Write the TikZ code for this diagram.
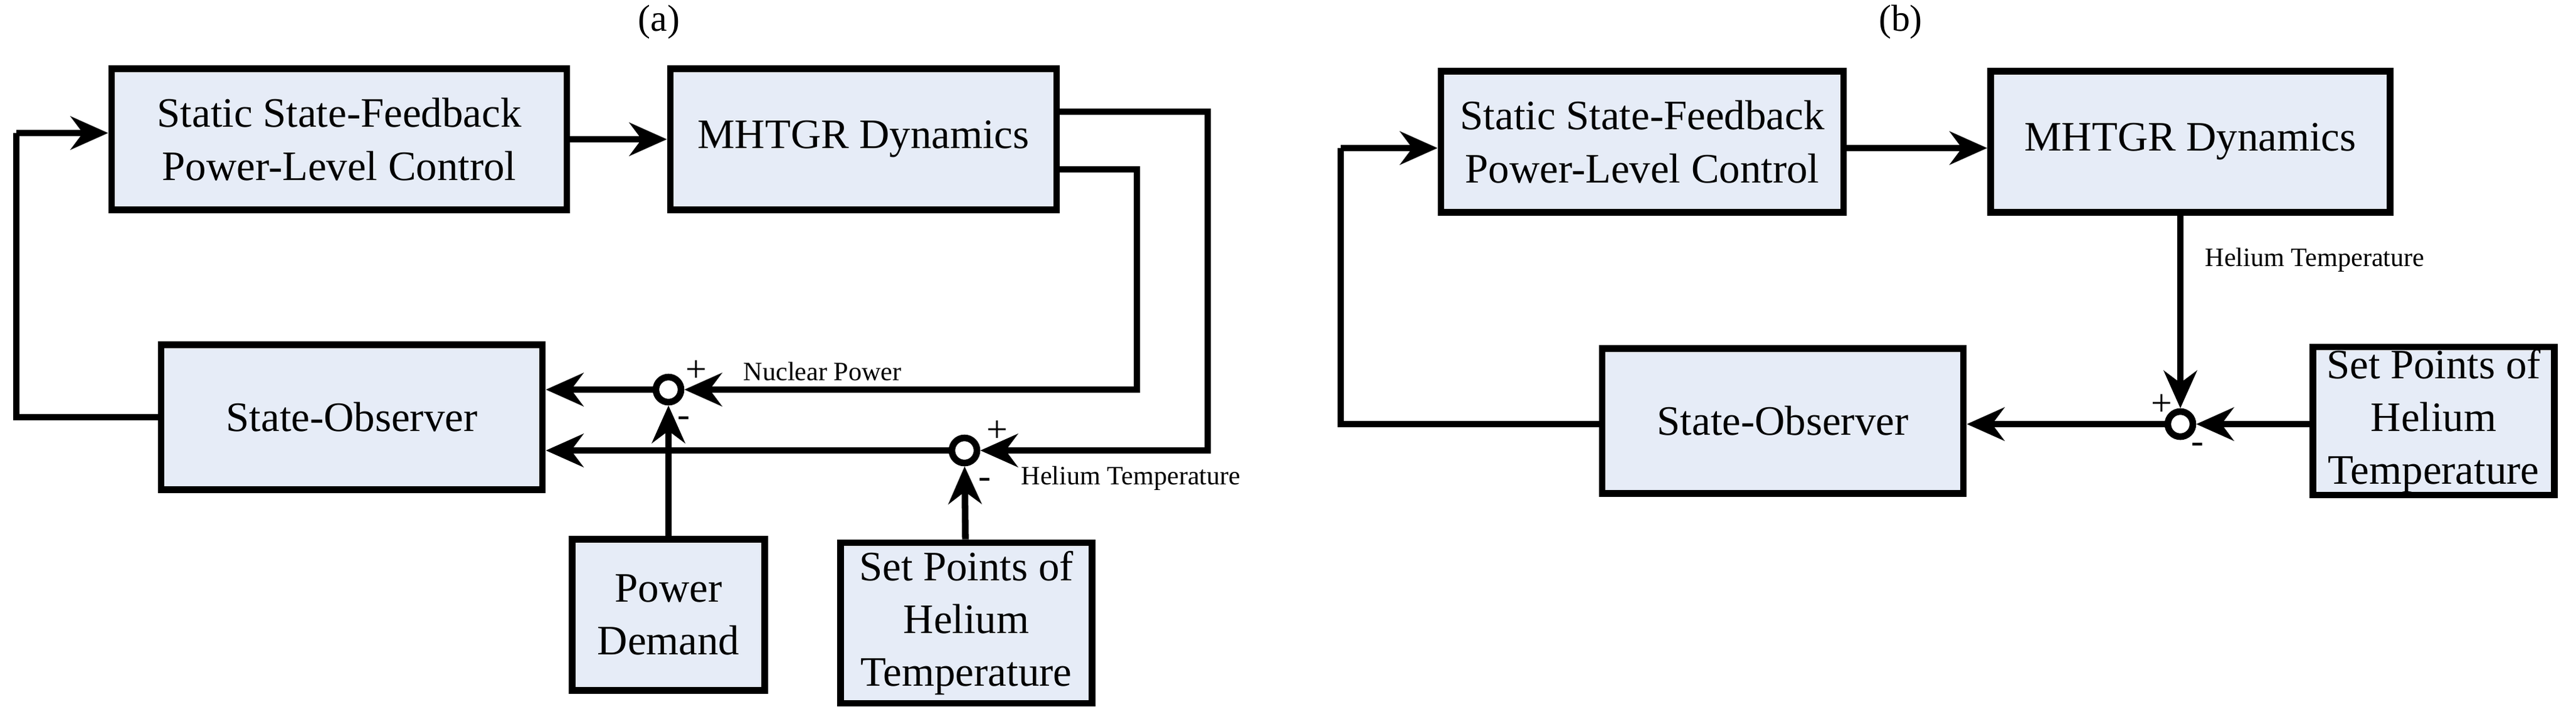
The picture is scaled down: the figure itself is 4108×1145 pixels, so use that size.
\documentclass[tikz,border=0pt]{standalone}
\usepackage{fontspec}
\setmainfont{Liberation Serif}
\newfontfamily\tms{Liberation Serif}
\usetikzlibrary{arrows.meta}
\definecolor{boxfill}{HTML}{E6ECF7}
\begin{document}
\begin{tikzpicture}[x=0.01cm,y=-0.01cm,
  box/.style={draw,line width=3pt,fill=boxfill,align=center,font=\tms\fontsize{19}{24}\selectfont,inner sep=0pt},
  sum/.style={draw,circle,line width=3pt,minimum size=0.4cm,inner sep=0pt,fill=white},
  ln/.style={line width=3pt},
  ar/.style={ln,-{Stealth[length=17pt,width=15pt]}},
  lab/.style={font=\tms\fontsize{12}{14}\selectfont,inner sep=0pt},
  sg/.style={font=\tms\fontsize{17}{17}\selectfont,inner sep=0pt}]
\useasboundingbox (0,0) rectangle (4108,1145);
% panel a
\node at (1051,35) [font=\tms\fontsize{17}{20}\selectfont] (ta) {(a)};
\node[box,minimum width=7.26cm,minimum height=2.25cm] (sa) at (541,222) {Static State-Feedback\\Power-Level Control};
\node[box,minimum width=6.16cm,minimum height=2.25cm] (ma) at (1377,222) {MHTGR Dynamics};
\node[box,minimum width=6.08cm,minimum height=2.31cm] (oa) at (561,665) {State-Observer};
\node[box,minimum width=3.07cm,minimum height=2.41cm] (pd) at (1066,980) {Power\\Demand};
\node[box,minimum width=4.01cm,minimum height=2.56cm] (spa) at (1541,993) {Set Points of\\Helium\\Temperature};
\node[sum] (c1) at (1066,621) {};
\node[sum] (c2) at (1538,718) {};
\coordinate (a1) at (1926,178);
\coordinate (a2) at (1926,718);
\coordinate (b1) at (1813,270);
\coordinate (b2) at (1813,621);
\coordinate (l1) at (26,665);
\coordinate (l2) at (26,212);
\draw[ar] (sa.east|-0,222) -- (ma.west|-0,222);
\draw[ar] (ma.east|-a1) -- (a1) -- (a2) -- (c2);
\draw[ar] (ma.east|-b1) -- (b1) -- (b2) -- (c1);
\draw[ar] (c1) -- (oa.east|-c1);
\draw[ar] (c2) -- (oa.east|-c2);
\draw[ar] (pd) -- (c1);
\draw[ar] (spa) -- (c2);
\draw[ln] (oa.west) -- (l1) -- (l2);
\draw[ar] (l2) -- (sa.west|-l2);
\node[sg] (p1) at (1110,592) {+};
\node[sg] (m1) at (1090,672) {-};
\node[sg] (p2) at (1590,688) {+};
\node[sg] (m2) at (1570,770) {-};
\node[lab,anchor=west] (np) at (1185,592) {Nuclear Power};
\node[lab,anchor=west] (ht) at (1628,762) {Helium Temperature};
% panel b
\node at (3031,35) [font=\tms\fontsize{17}{20}\selectfont] (tb) {(b)};
\node[box,minimum width=6.42cm,minimum height=2.25cm] (sb) at (2619,226) {Static State-Feedback\\Power-Level Control};
\node[box,minimum width=6.37cm,minimum height=2.25cm] (mb) at (3493,226) {MHTGR Dynamics};
\node[box,minimum width=5.76cm,minimum height=2.31cm] (ob) at (2843,671) {State-Observer};
\node[box,minimum width=3.85cm,minimum height=2.36cm] (spb) at (3881,671) {Set Points of\\Helium\\Temperature};
\node[sum] (cb) at (3477,676) {};
\coordinate (lb1) at (2138,676);
\coordinate (lb2) at (2138,236);
\draw[ar] (sb.east|-0,236) -- (mb.west|-0,236);
\draw[ar] (mb.south-|cb) -- (cb);
\draw[ar] (spb.west|-cb) -- (cb);
\draw[ar] (cb) -- (ob.east|-cb);
\draw[ln] (ob.west|-cb) -- (lb1) -- (lb2);
\draw[ar] (lb2) -- (sb.west|-lb2);
\node[sg] (pb) at (3447,646) {+};
\node[sg] (mb2) at (3504,714) {-};
\node[lab,anchor=west] (htb) at (3516,414) {Helium Temperature};
\end{tikzpicture}
\end{document}
